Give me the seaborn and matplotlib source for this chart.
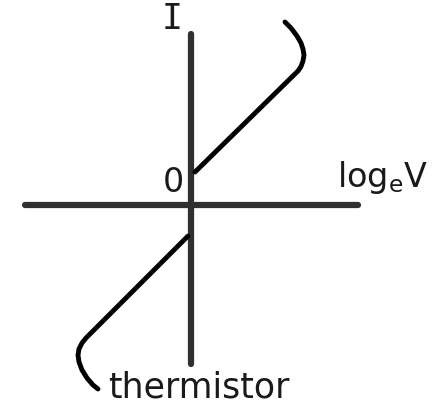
import numpy as np
import pandas as pd
import seaborn as sns
import matplotlib.pyplot as plt

# thermistor characteristic, x = log_e V, y = I (arbitrary units)
upper_x = [0.4, 10.7, 11.0, 11.2, 11.3, 11.2, 11.0, 10.6, 10.0, 9.4]
upper_y = [3.3, 13.4, 13.85, 14.4, 15.0, 15.6, 16.2, 16.9, 17.7, 18.3]
lower_x = [-0.3, -10.5, -10.9, -11.2, -11.3, -11.2, -10.9, -10.4, -9.8, -9.3]
lower_y = [-3.1, -13.3, -13.8, -14.4, -15.0, -15.7, -16.5, -17.3, -18.0, -18.4]

# extent of the drawn axes
haxis_x = [-16.6, 16.7]
vaxis_y = [-15.9, 17.1]

sns.set_style("white")

fig = plt.figure(figsize=(4.44, 4.06), dpi=100)
ax = fig.add_axes([0, 0, 1, 1])

axis_col = '#303030'
sns.lineplot(x=haxis_x, y=[0, 0], ax=ax, color=axis_col, linewidth=4.5, sort=False, estimator=None)
sns.lineplot(x=[0, 0], y=vaxis_y, ax=ax, color=axis_col, linewidth=4.5, sort=False, estimator=None)

curve = pd.DataFrame({'x': upper_x + lower_x, 'y': upper_y + lower_y,
                      'branch': ['up'] * len(upper_x) + ['down'] * len(lower_x)})
sns.lineplot(data=curve, x='x', y='y', units='branch', estimator=None, sort=False,
             ax=ax, color='black', linewidth=3.5)

txt_col = '#1a1a1a'
ax.text(-1.9, 18.7, 'I', fontsize=25, family='DejaVu Sans Mono', ha='center', va='center', color=txt_col)
ax.text(-1.8, 2.35, '0', fontsize=24, ha='center', va='center', color=txt_col)
ax.text(14.6, 1.9, r'log$_\mathregular{e}$V', fontsize=24, ha='left', va='baseline', color=txt_col)
ax.text(-8.3, -19.1, 'thermistor', fontsize=25, ha='left', va='baseline', color=txt_col)

ax.set_xlim(-19.1, 25.3)
ax.set_ylim(-20.0, 20.6)
ax.axis('off')

fig.savefig('out.png', dpi=100)
